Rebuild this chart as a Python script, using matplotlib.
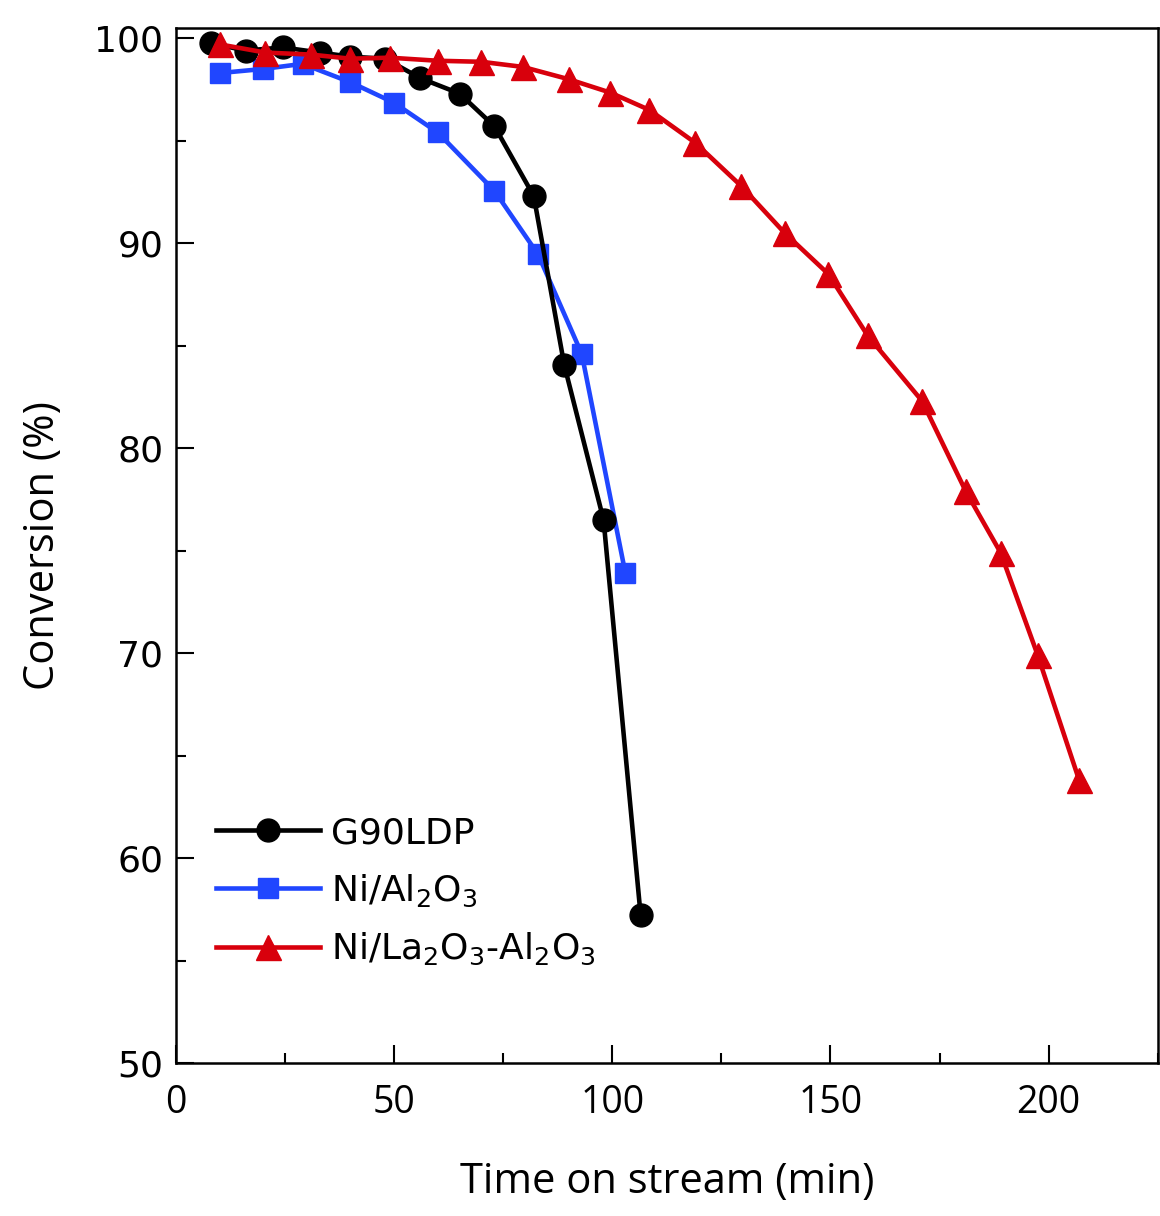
import numpy as np
import matplotlib.pyplot as plt
from matplotlib.ticker import MultipleLocator

plt.rcParams['mathtext.default'] = 'regular'

# time on stream (min) and conversion (%) for each catalyst
t_g90 = [8, 16, 24.5, 33, 40, 48, 56, 65, 73, 82, 89, 98, 106.5]
conv_g90 = [99.75, 99.4, 99.55, 99.3, 99.1, 99.0, 98.05, 97.3, 95.7, 92.3, 84.05, 76.5, 57.2]

t_ni = [10, 20, 29, 40, 50, 60, 73, 83, 93, 103]
conv_ni = [98.3, 98.5, 98.75, 97.85, 96.85, 95.4, 92.55, 89.45, 84.6, 73.9]

t_nila = [10, 20.5, 31, 40, 49, 60, 70, 79.5, 90, 99.5, 108.5, 119, 129.5,
          139.5, 149.5, 158.5, 171, 181, 189, 197.5, 207]
conv_nila = [99.7, 99.3, 99.2, 99.0, 99.05, 98.9, 98.85, 98.6, 98.0, 97.35, 96.5, 94.9,
             92.8, 90.5, 88.5, 85.5, 82.3, 77.9, 74.9, 69.9, 63.8]

labels = ['G90LDP', 'Ni/Al$_2$O$_3$', 'Ni/La$_2$O$_3$-Al$_2$O$_3$']

fig = plt.figure(figsize=(11.6, 12.16), dpi=100)
ax = fig.add_axes([0.1517, 0.1258, 0.8463, 0.8512])

ax.plot(t_g90, conv_g90, color='black', lw=3.3, marker='o', ms=16.5, label=labels[0], zorder=3)
ax.plot(t_ni, conv_ni, color='#2046ff', lw=3.3, marker='s', ms=15, label=labels[1], zorder=2)
ax.plot(t_nila, conv_nila, color='#d8000c', lw=3.3, marker='^', ms=18, label=labels[2], zorder=4)

ax.set_xlim(0, 225)
ax.set_ylim(50, 100.5)
ax.xaxis.set_major_locator(MultipleLocator(50))
ax.xaxis.set_minor_locator(MultipleLocator(25))
ax.yaxis.set_major_locator(MultipleLocator(10))
ax.yaxis.set_minor_locator(MultipleLocator(5))

ax.tick_params(which='both', direction='in', width=1.5, top=False, right=False)
ax.tick_params(which='major', length=13)
ax.tick_params(which='minor', length=7)
ax.tick_params(axis='x', pad=15)
ax.tick_params(axis='y', pad=9)
for spine in ax.spines.values():
    spine.set_linewidth(1.8)

for lab in ax.get_xticklabels():
    lab.set_fontfamily('Open Sans')
    lab.set_fontsize(27)
for lab in ax.get_yticklabels():
    lab.set_fontfamily('DejaVu Sans')
    lab.set_fontsize(26)

ax.set_xlabel('Time on stream (min)', fontsize=30, family='Open Sans', labelpad=28)
ax.set_ylabel('Conversion (%)', fontsize=30, family='Open Sans', labelpad=22)

leg = ax.legend(loc='upper left', bbox_to_anchor=(0.022, 0.256), frameon=False,
                borderpad=0, handlelength=2.9, handletextpad=0.3, labelspacing=0.62,
                prop={'family': 'DejaVu Sans', 'size': 26})

fig.savefig('out.png', dpi=100)
